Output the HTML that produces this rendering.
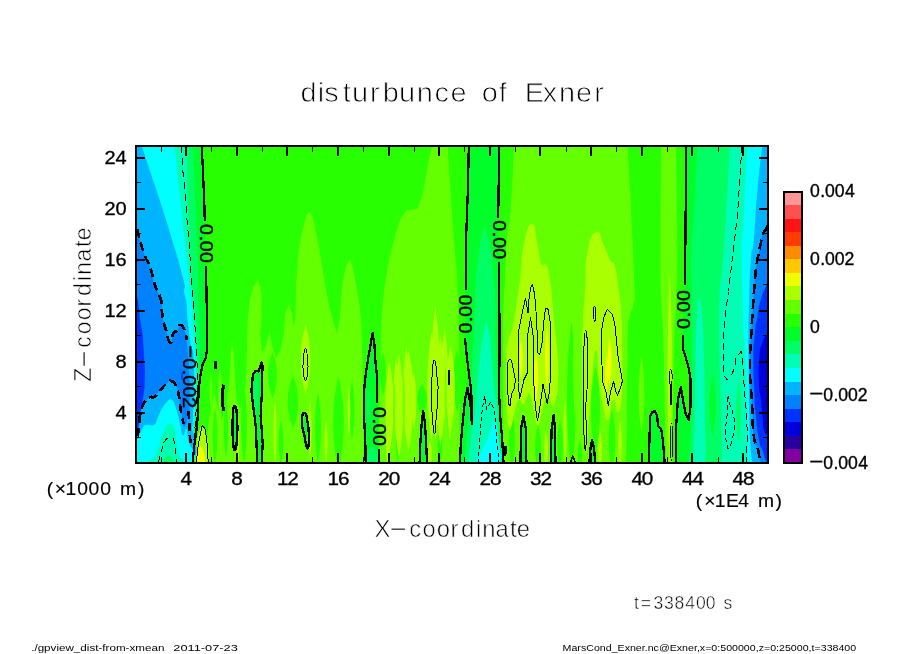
<!DOCTYPE html>
<html lang="en"><head><meta charset="utf-8"><title>disturbunce of Exner</title>
<style>
html,body{margin:0;padding:0;background:#fff;}
body{width:904px;height:654px;overflow:hidden;}
svg{display:block;}
text{font-family:"Liberation Sans",sans-serif;fill:#000;}
</style></head><body>
<svg width="904" height="654" viewBox="0 0 904 654">
<rect x="0" y="0" width="904" height="654" fill="#fff"/>
<defs><clipPath id="pc"><rect x="136" y="146" width="632" height="317"/></clipPath></defs>
<g clip-path="url(#pc)">
<rect x="135" y="145" width="634" height="319" fill="#28ff00"/>
<path d="M207,464 207,440 209,420 212,405 214,392 216.5,402 219,412 221.5,420 224.5,410 227,400 229.5,380 231,352 232.4,344.6 233.8,352 235,380 237,400 240,410 243,400 245.5,385 246.8,358 247.3,333 248,316 249.8,300 253.5,287 258,279 261.4,293 261.6,316 260.2,336 262,352 266,346 269.4,331.3 272,345 276,358 280.5,350 283.8,333 285.4,313 288.8,304.8 292,313 293.6,328 295.4,316 296.2,283 298.7,250 302,232 306,217 309.4,211.5 313,218 316,232 319.5,250 322.8,271.6 327.8,299.8 332.7,319.7 336.9,333 340,316 342.4,283 346,266 349.9,259 353,268 355.7,283 359.9,308 361.5,324.7 362.4,358 363,400 364,464Z" fill="#64ff00"/>
<path d="M378,464 379.5,400 380.6,358 381.8,316 383.9,291.5 387.2,270 391.4,250 395,236 400,220 406,210.5 417.5,208.8 422.5,195 428.8,160 432.5,144 447.5,144 448.8,165 451.2,202.5 453.8,240 457,275 458.6,316 459,358 459.5,400 459.5,464Z" fill="#64ff00"/>
<path d="M514,145C513.5,155.8 513.8,154.2 512.5,177.5C511.2,200.8 511.8,194.2 510,215C508.2,235.8 508.7,218.3 507,240C505.3,261.7 506.1,259 505,280C503.9,301 504.4,283 503.8,303C503.1,323 503.2,307.7 503,340C502.8,372.3 502.8,358.7 503,400C503.2,441.3 503.3,442.7 503.5,464 L626,464C626.3,446 626.5,445.3 627,410C627.5,374.7 627.3,383.7 627.6,358C627.9,332.3 627.1,346.9 627.8,333C628.5,319.1 627.9,326.1 629.8,316.4C631.7,306.7 631.9,312.8 633.5,304C635.1,295.2 634.8,311.3 634.5,290C634.2,268.7 634,273.3 632.5,240C631,206.7 631.7,221.7 630,190C628.3,158.3 628.3,160 627.5,145 Z" fill="#64ff00"/>
<path d="M661.2,145C661,180 660.5,198.3 660.5,250C660.5,301.7 660.5,273.3 661.3,300C662.1,326.7 662.2,310.7 663,330C663.8,349.3 663.1,328 663.8,358C664.5,388 664.3,384.7 665,420C665.7,455.3 665.7,449.3 666,464 L672.5,464C672.7,449.3 672.6,455.3 673,420C673.4,384.7 673.3,388 673.8,358C674.3,328 673.8,349.3 674.6,330C675.4,310.7 675.5,326.7 676.3,300C677.1,273.3 677.1,301.7 677.1,250C677.1,198.3 676.5,180 676.2,145 Z" fill="#64ff00"/>
<path d="M215,408 C218.2,424.8 218.2,447.2 215,464 C211.8,447.2 211.8,424.8 215,408 Z" fill="#28ff00"/>
<path d="M226,400 C228.9,417.4 228.9,440.6 226,458 C223.1,440.6 223.1,417.4 226,400 Z" fill="#28ff00"/>
<path d="M244,385 C247.9,408.7 247.9,440.3 244,464 C240.1,440.3 240.1,408.7 244,385 Z" fill="#28ff00"/>
<path d="M272.5,352 C278.4,365.8 278.4,384.2 272.5,398 C266.6,384.2 266.6,365.8 272.5,352 Z" fill="#28ff00"/>
<path d="M293,376 C300.1,391.6 300.1,412.4 293,428 C285.9,412.4 285.9,391.6 293,376 Z" fill="#28ff00"/>
<path d="M281,420 C284.2,433.2 284.2,450.8 281,464 C277.8,450.8 277.8,433.2 281,420 Z" fill="#28ff00"/>
<path d="M318,392 C321.9,413.6 321.9,442.4 318,464 C314.1,442.4 314.1,413.6 318,392 Z" fill="#28ff00"/>
<path d="M338.5,376 C345.6,404.2 345.6,441.8 338.5,470 C331.4,441.8 331.4,404.2 338.5,376 Z" fill="#28ff00"/>
<path d="M352,380 C355.2,398 355.2,422 352,440 C348.8,422 348.8,398 352,380 Z" fill="#28ff00"/>
<path d="M383,352 C386.9,365.2 386.9,382.8 383,396 C379.1,382.8 379.1,365.2 383,352 Z" fill="#28ff00"/>
<path d="M422,384 C428.5,393 428.5,405 422,414 C415.5,405 415.5,393 422,384 Z" fill="#28ff00"/>
<path d="M457,350 C462.2,368.6 462.2,393.4 457,412 C451.8,393.4 451.8,368.6 457,350 Z" fill="#28ff00"/>
<path d="M398,410 C400.9,426.2 400.9,447.8 398,464 C395.1,447.8 395.1,426.2 398,410 Z" fill="#28ff00"/>
<path d="M440,425 C443.2,436.7 443.2,452.3 440,464 C436.8,452.3 436.8,436.7 440,425 Z" fill="#28ff00"/>
<path d="M571.5,322 C577.5,367.6 577.5,428.4 571.5,474 C565.5,428.4 565.5,367.6 571.5,322 Z" fill="#28ff00"/>
<path d="M595.5,366 C601.5,392.4 601.5,427.6 595.5,454 C589.5,427.6 589.5,392.4 595.5,366 Z" fill="#28ff00"/>
<path d="M560,420 C563.9,435 563.9,455 560,470 C556.1,455 556.1,435 560,420 Z" fill="#28ff00"/>
<path d="M538,425 C541.9,438.5 541.9,456.5 538,470 C534.1,456.5 534.1,438.5 538,425 Z" fill="#28ff00"/>
<path d="M512,410 C515.9,428 515.9,452 512,470 C508.1,452 508.1,428 512,410 Z" fill="#28ff00"/>
<path d="M612,410 C616.5,428 616.5,452 612,470 C607.5,452 607.5,428 612,410 Z" fill="#28ff00"/>
<path d="M580,440 C583.2,449 583.2,461 580,470 C576.8,461 576.8,449 580,440 Z" fill="#28ff00"/>
<path d="M641.5,356 C645.4,378.8 645.4,409.2 641.5,432 C637.6,409.2 637.6,378.8 641.5,356 Z" fill="#64ff00"/>
<path d="M220,366 C222.3,382.2 222.3,403.8 220,420 C217.7,403.8 217.7,382.2 220,366 Z" fill="#64ff00"/>
<path d="M211,372 C212.9,383.4 212.9,398.6 211,410 C209.1,398.6 209.1,383.4 211,372 Z" fill="#64ff00"/>
<path d="M532,223.8C536.1,223.8 534.7,233 537.5,245C540.3,257 538.6,257.8 541.2,263.8C543.9,269.8 543.5,259.2 546.2,265C549,270.8 548.4,270.3 550.4,283.2C552.4,296.1 551.4,293.1 552.9,308C554.4,322.9 553.9,318 555.4,333C556.9,348 557.1,342.4 557.9,358C558.7,373.6 558.6,373 558,385C557.4,397 557.6,391.7 556,398C554.4,404.3 554.6,406.3 552.5,406C550.4,405.7 551.2,398.8 549,397C546.8,395.2 547.2,394.9 545,400C542.8,405.1 543.8,406.5 541.5,414C539.2,421.5 539.8,425.6 537.5,425C535.2,424.4 536.2,421.3 534,412C531.8,402.7 532.2,398.2 530,394C527.8,389.8 528.6,395 526.5,398C524.4,401 525.2,403.4 523,404C520.8,404.6 521.2,398.8 519,400C516.8,401.2 517.6,400.8 515.5,408C513.4,415.2 514,418 512,424C510.1,430 510.5,432.2 509,428C507.5,423.8 507.8,421.4 507,410C506.2,398.6 506.6,405.6 506.5,390C506.4,374.4 506,372.6 506.5,358C507,343.4 506.1,351.3 508.1,341.3C510.1,331.3 510.4,337.1 513.1,324.7C515.8,312.2 515,314.7 517.2,299.8C519.5,284.9 518.6,291.4 520.6,275C522.6,258.6 520.3,260.4 523.8,245C527.2,229.6 527.9,223.8 532,223.8Z" fill="#aaff00"/>
<path d="M596.2,232C601.1,229.8 599.6,236.6 603.8,245C607.9,253.4 606.7,253.5 610,260C613.3,266.5 612.2,257.2 614.9,266.6C617.6,276.1 617,276.6 619,291.5C621,306.4 620.5,296.4 621.5,316.4C622.5,336.3 622.2,335.3 622.4,358C622.5,380.7 623.3,375.8 622,392C620.7,408.2 620.7,409.6 618,412C615.3,414.4 616,397.6 613,400C610,402.4 611,418.5 608,420C605,421.5 605.7,417 603,405C600.3,393 601.1,396.5 599,380C596.9,363.5 598.1,350 596,350C593.9,350 594.1,359 592,380C589.9,401 590.8,398.4 589,420C587.2,441.6 587.6,452 586,452C584.4,452 584.7,448.2 583.5,420C582.3,391.8 582.2,386.6 582,358C581.8,329.4 581.9,345.1 582.8,324.7C583.7,304.3 583.6,311.7 585,290C586.4,268.3 584.1,269.9 587.5,252.5C590.9,235.1 591.4,234.2 596.2,232Z" fill="#aaff00"/>
<path d="M575,300 C577.6,336 577.6,384 575,420 C572.4,384 572.4,336 575,300 Z" fill="#64ff00"/>
<path d="M305.6,325 C312.1,345.7 312.1,373.3 305.6,394 C299.1,373.3 299.1,345.7 305.6,325 Z" fill="#aaff00"/>
<path d="M435.4,307 C441.4,346.9 441.4,400.1 435.4,440 C429.4,400.1 429.4,346.9 435.4,307 Z" fill="#aaff00"/>
<path d="M444.5,328 C449.2,355.6 449.2,392.4 444.5,420 C439.8,392.4 439.8,355.6 444.5,328 Z" fill="#aaff00"/>
<path d="M406.3,347 C411,374.9 411,412.1 406.3,440 C401.6,412.1 401.6,374.9 406.3,347 Z" fill="#aaff00"/>
<path d="M396,358 C399.4,379.6 399.4,408.4 396,430 C392.6,408.4 392.6,379.6 396,358 Z" fill="#aaff00"/>
<path d="M411,362 C414.4,380.9 414.4,406.1 411,425 C407.6,406.1 407.6,380.9 411,362 Z" fill="#aaff00"/>
<path d="M349,386 C350.8,401 350.8,421 349,436 C347.2,421 347.2,401 349,386 Z" fill="#aaff00"/>
<path d="M669.8,272 C672.7,331.4 672.7,410.6 669.8,470 C666.9,410.6 666.9,331.4 669.8,272 Z" fill="#aaff00"/>
<path d="M310,400 C312.3,418 312.3,442 310,460 C307.7,442 307.7,418 310,400 Z" fill="#aaff00"/>
<path d="M275,400 C277.1,419.2 277.1,444.8 275,464 C272.9,444.8 272.9,419.2 275,400 Z" fill="#aaff00"/>
<path d="M238,420 C240.1,433.2 240.1,450.8 238,464 C235.9,450.8 235.9,433.2 238,420 Z" fill="#aaff00"/>
<path d="M326,420 C328.1,433.2 328.1,450.8 326,464 C323.9,450.8 323.9,433.2 326,420 Z" fill="#aaff00"/>
<path d="M388,420 C390.6,434.4 390.6,453.6 388,468 C385.4,453.6 385.4,434.4 388,420 Z" fill="#aaff00"/>
<path d="M450,380 C452.6,398 452.6,422 450,440 C447.4,422 447.4,398 450,380 Z" fill="#aaff00"/>
<path d="M430,440 C432.6,449 432.6,461 430,470 C427.4,461 427.4,449 430,440 Z" fill="#aaff00"/>
<path d="M565,400 C567.1,419.2 567.1,444.8 565,464 C562.9,444.8 562.9,419.2 565,400 Z" fill="#aaff00"/>
<path d="M546,430 C548.6,442 548.6,458 546,470 C543.4,458 543.4,442 546,430 Z" fill="#aaff00"/>
<path d="M600,430 C602.6,442 602.6,458 600,470 C597.4,458 597.4,442 600,430 Z" fill="#aaff00"/>
<path d="M620,420 C622.3,435 622.3,455 620,470 C617.7,455 617.7,435 620,420 Z" fill="#aaff00"/>
<path d="M389.5,362 C395.2,389 395.2,425 389.5,452 C383.8,425 383.8,389 389.5,362 Z" fill="#aaff00"/>
<path d="M399,354 C405,385.2 405,426.8 399,458 C393,426.8 393,385.2 399,354 Z" fill="#aaff00"/>
<path d="M408.5,350 C414.7,380.6 414.7,421.4 408.5,452 C402.3,421.4 402.3,380.6 408.5,350 Z" fill="#aaff00"/>
<path d="M414,372 C417.1,389.4 417.1,412.6 414,430 C410.9,412.6 410.9,389.4 414,372 Z" fill="#aaff00"/>
<path d="M431.5,332 C437,365 437,409 431.5,442 C426,409 426,365 431.5,332 Z" fill="#aaff00"/>
<path d="M440.5,336 C446.5,369 446.5,413 440.5,446 C434.5,413 434.5,369 440.5,336 Z" fill="#aaff00"/>
<path d="M450.5,346 C456.5,371.8 456.5,406.2 450.5,432 C444.5,406.2 444.5,371.8 450.5,346 Z" fill="#aaff00"/>
<path d="M394.3,380 C395.6,398 395.6,422 394.3,440 C393,422 393,398 394.3,380 Z" fill="#64ff00"/>
<path d="M403.8,372 C405.1,391.2 405.1,416.8 403.8,436 C402.5,416.8 402.5,391.2 403.8,372 Z" fill="#64ff00"/>
<path d="M445.6,366 C446.8,382.2 446.8,403.8 445.6,420 C444.4,403.8 444.4,382.2 445.6,366 Z" fill="#64ff00"/>
<path d="M195.5,464 C194.8,444 198.8,428.8 202.2,424 C205.6,428.8 209.7,444 209,464 Z" fill="#aaff00"/>
<path d="M521,340 C523.3,351.4 523.3,366.6 521,378 C518.7,366.6 518.7,351.4 521,340 Z" fill="#f0ff00"/>
<path d="M536,352 C539.1,367.6 539.1,388.4 536,404 C532.9,388.4 532.9,367.6 536,352 Z" fill="#f0ff00"/>
<path d="M547,328 C549.6,346 549.6,370 547,388 C544.4,370 544.4,346 547,328 Z" fill="#f0ff00"/>
<path d="M609.6,338 C612.5,352.4 612.5,371.6 609.6,386 C606.7,371.6 606.7,352.4 609.6,338 Z" fill="#f0ff00"/>
<path d="M606.5,356 C608.6,367.4 608.6,382.6 606.5,394 C604.4,382.6 604.4,367.4 606.5,356 Z" fill="#f0ff00"/>
<path d="M196.5,464 C196.1,455 198.5,448.2 200.5,446 C202.8,448.2 205.4,455 205,464 Z" fill="#f0ff00"/>
<path d="M468.8,145C468.5,159.2 468.8,157.5 468,187.5C467.2,217.5 467,200.8 466.2,235C465.5,269.2 466.2,255.7 465.8,290C465.3,324.3 464.8,315.3 465,338C465.2,360.7 465.8,344 466.5,358C467.2,372 467.5,366.2 467,380C466.5,393.8 466.5,384.7 465,399.5C463.5,414.3 463.9,409.5 462.5,424.4C461.1,439.3 461.6,431.1 460.8,444.3C460,457.5 460.3,457.4 460,464 L503.5,464C503.1,456.3 503.4,457 502.3,441C501.2,425 501.3,432.6 500.2,416C499.1,399.4 499.2,410.5 499,391.2C498.8,371.9 499.4,400.9 499.5,358C499.6,315.1 499.8,310.2 499.2,262.5C498.8,214.8 498,254.2 498,215C498,175.8 498.8,168.3 499.2,145 Z" fill="#00ff28"/>
<path d="M484.5,226C483.7,229.3 483.7,228 482,236C480.3,244 481.5,235.3 479.5,250C477.5,264.7 477.6,262.3 476,280C474.4,297.7 475.4,286.3 474.8,303C474.2,319.7 475.1,311.7 474.3,330C473.5,348.3 473.9,334.7 472.5,358C471.1,381.3 472,372.7 470,400C468,427.3 468.2,418.7 466.5,440C464.8,461.3 465.5,456 465,464 L501,464C500.7,457.7 501,459.7 500,445C499,430.3 499,445 498,420C497,395 497.8,396.7 497,370C496.2,343.3 496.1,362.3 495.5,340C494.9,317.7 495.7,323 495.2,303C494.7,283 495.6,297.7 494,280C492.4,262.3 492.7,264.7 490.5,250C488.3,235.3 489.5,244 487.5,236C485.5,228 485.5,229.3 484.5,226 Z" fill="#00ff64"/>
<path d="M486.2,321.3C485.3,325.9 485.6,322.8 483.5,335C481.4,347.2 482.2,339.7 480,358C477.8,376.3 478.7,373.3 477,390C475.3,406.7 477,391.3 475,408C473,424.7 473.2,421.3 471,440C468.8,458.7 469.3,456 468.5,464 L500,464C499.6,456 499.7,458.7 498.8,440C497.9,421.3 498.7,424.7 497.3,408C495.9,391.3 496.4,406.7 494.5,390C492.6,373.3 493.2,376.3 491.5,358C489.8,339.7 491.3,347.2 489.5,335C487.7,322.8 487.3,325.9 486.2,321.3 Z" fill="#00ffb4"/>
<path d="M494,421C496.3,419 495.8,424.7 497,430C498.2,435.3 497.9,431.9 498.5,441C499.1,450.1 504.7,457.9 499.3,464C493.9,470.1 483,467.5 478.3,464C473.6,460.5 479,458 481.6,451C484.2,444 484.9,445.6 488.2,437.6C491.5,429.6 491.7,423 494,421Z" fill="#00ffff"/>
<path d="M365.7,464 365.3,441 364,416 364,391 365.7,374.6 368.2,358 370.5,345 372.6,333 L374.5,345 375.1,358 376.8,374.6 377.3,391 377.3,403 378,430 379,449 379,464Z" fill="#00ff28"/>
<path d="M367,464C364.6,460.8 367.2,456.5 368.5,452C369.8,447.5 370,447 372,447C374,447 374.5,447.5 376,452C377.5,456.5 379.9,460.8 377.5,464C375.1,467.2 369.4,467.2 367,464Z" fill="#00ff64"/>
<path d="M368.5,388 C370.2,400 370.2,416 368.5,428 C366.8,416 366.8,400 368.5,388 Z" fill="#00ff64"/>
<path d="M419.6,464 C419.2,437.4 421.4,417.2 423.2,410.8 C425.1,417.2 427.4,437.4 427,464 Z" fill="#00ff28"/>
<path d="M253,373.8 255.5,371 258.5,371.5 260.5,366 261.4,362.5 262.6,366 262.2,374.6 261.7,396 260.6,416 262.2,436 262.7,444 261.7,464 257.2,464 256.4,441 255.6,424.4 253,404.5 251.4,391Z" fill="#00ff28"/>
<path d="M256,376 C259.1,386.8 259.1,401.2 256,412 C252.9,401.2 252.9,386.8 256,376 Z" fill="#00ff64"/>
<path d="M234.8,407 C237.4,419.9 237.4,437.1 234.8,450 C232.2,437.1 232.2,419.9 234.8,407 Z" fill="#00ff28"/>
<path d="M305,414 C308.1,424.2 308.1,437.8 305,448 C301.9,437.8 301.9,424.2 305,414 Z" fill="#00ff28"/>
<path d="M520.6,464 C520.3,440 522,421.8 523.5,416 C525,421.8 526.7,440 526.4,464 Z" fill="#00ff28"/>
<path d="M551,464 C550.8,439.6 552.4,421.1 553.7,415.2 C554.7,421.1 555.8,439.6 555.6,464 Z" fill="#00ff28"/>
<path d="M589.4,464 C589.1,452 590.8,442.9 592.2,440 C593.7,442.9 595.5,452 595.2,464 Z" fill="#00ff28"/>
<path d="M648.9,464 L649.4,441 650.1,416 652,412.5 654.7,410.8 657.2,416 658,426 661.3,429.3 663,441 664.7,464Z" fill="#00ff28"/>
<path d="M769,145 L686.2,145 685,285 682.9,334.6 683.2,349.5 685.9,358 688.7,368 690.4,378 690.4,407.8 688.7,420.2 685.4,412.8 682.9,399.5 680.9,387 677.9,399.5 676.3,424.4 675.9,464 L769,464Z" fill="#00ff28"/>
<path d="M769,145 L697.5,145C696.2,168.3 695.8,180 693.8,215C691.7,250 692.1,221.7 691.4,250C690.6,278.3 691.5,264 691.5,300C691.5,336 691.3,324.7 691.5,358C691.7,391.3 692.2,376 692,400C691.8,424 692,408.7 691,430C690,451.3 689.7,452.7 689,464 L769,464Z" fill="#00ff64"/>
<path d="M699.5,298.7C700.8,298.7 700.8,299.2 702,315C703.2,330.8 703.3,332.7 704,358C704.7,383.3 704.7,381.7 704.8,410C704.9,438.3 707.2,449.6 704.5,464C701.8,478.4 697.1,478.4 694.5,464C691.9,449.6 694.6,438.3 694.9,410C695.2,381.7 695.1,383.3 695.7,358C696.3,332.7 696,330.8 697,315C698,299.2 698.2,298.7 699.5,298.7Z" fill="#00ffb4"/>
<path d="M769,145 L730,145C728.7,168.3 728.5,175 726,215C723.5,255 724.6,236.7 722.5,265C720.4,293.3 720.6,269 719.6,300C718.6,331 719.1,324.7 719.6,358C720.1,391.3 720.2,364.7 721,400C721.8,435.3 721.7,442.7 722,464 L769,464Z" fill="#00ffb4"/>
<path d="M712.6,374 C716.5,392.6 716.5,417.4 712.6,436 C708.7,417.4 708.7,392.6 712.6,374 Z" fill="#00ff28"/>
<path d="M738.5,380 C741.6,399.2 741.6,424.8 738.5,444 C735.4,424.8 735.4,399.2 738.5,380 Z" fill="#00ff64"/>
<path d="M769,145 L747.5,145C746.2,168.3 745.6,180 743.8,215C741.9,250 742.2,221.8 741.9,250C741.5,278.2 742.2,272 742.7,299.5C743.2,327 742.7,313.2 743.5,332.5C744.3,351.8 743.9,332.4 745,357.4C746.1,382.4 745.9,372 746.8,407.5C747.7,443 747.4,445.2 747.7,464 L769,464Z" fill="#00ffff"/>
<path d="M769,145 L762.5,145C760.8,160 760.4,158.3 757.5,190C754.6,221.7 755.9,217.3 753.8,240C751.6,262.7 752.5,238.2 751,258C749.5,277.8 750.1,274.7 749.3,299.5C748.5,324.3 748.8,313 748.5,332.5C748.2,352 748.2,333 748.5,358C748.8,383 748.8,380 749.3,407.5C749.8,435 749,421.7 750.1,440.5C751.2,459.3 751.8,456.2 752.6,464 L769,464Z" fill="#00b4ff"/>
<path d="M769,225 L769,225C768.5,225.3 769.7,222.7 767.5,226C765.3,229.3 765.4,226.2 762.5,235C759.6,243.8 760.9,242 758.8,252.5C756.6,263 757.6,256.3 756.2,266.5C754.8,276.7 755.5,272 754.6,283C753.7,294 754.2,288.5 753.4,299.5C752.6,310.5 753,305 752.3,316C751.6,327 752,320.4 751.3,332.5C750.6,344.6 750.5,337.2 750.1,352.3C749.7,367.4 749.7,363.8 750.1,377.8C750.5,391.8 750.6,383.3 751.3,394.3C752,405.3 751.8,399.8 752.3,410.8C752.8,421.8 752.2,417.4 752.9,427.3C753.6,437.2 752.5,432.8 754.3,440.5C756.1,448.2 756.5,442.6 758.4,450.4C760.3,458.2 759.5,459.5 760,464 L769,464Z" fill="#0082ff"/>
<path d="M769,282 L769,282C768.2,283.2 769.3,279.7 766.6,285.5C763.9,291.3 763.9,289.3 760.9,299.5C757.9,309.7 759.6,305 757.6,316C755.6,327 756.4,318.5 755,332.5C753.6,346.5 753.6,338.5 753.4,358C753.2,377.5 753.5,371.7 754.3,391C755.1,410.3 754.3,399.3 755.9,415.8C757.5,432.3 757,429 759.2,440.5C761.4,452 760.3,443.9 762.5,450.4C764.7,456.9 763.6,455.5 765.8,460C768,464.5 767.9,462.7 769,464 L769,464Z" fill="#0032ff"/>
<path d="M769,333 L769,333C768.2,333.7 768.8,331.9 766.6,335C764.4,338.1 765,334.7 762.5,342.4C760,350.1 760.4,344.5 759.2,358C758,371.5 758.3,369 758.9,382.8C759.5,396.6 759.7,388.3 760.9,399.3C762.1,410.3 761.4,405.4 762.5,415.8C763.6,426.2 762,423.9 764.2,430.6C766.4,437.3 767.4,434.2 769,436 L769,436Z" fill="#0000dc"/>
<path d="M135,145 L201.8,145C202.1,152 201.8,144 202.7,166C203.6,188 203.3,177.7 204.5,211C205.7,244.3 205.4,219.7 206.2,266C207,312.3 207.1,319.7 207,350C206.9,380.3 207.5,352 206,357C204.5,362 204.3,359 202.5,365C200.7,371 201.8,366.7 200.5,375C199.2,383.3 199.5,376.3 198.6,390C197.7,403.7 198.6,401.7 197.8,416C197,430.3 197.3,423.7 196.2,433C195.1,442.3 195.4,436.7 194.5,444C193.6,451.3 194,448.3 193.4,455C192.8,461.7 192.9,461 192.6,464 L135,464Z" fill="#00ff28"/>
<path d="M135,145 L193,145C194.5,182 195.5,204.3 197.4,256C199.3,307.7 197.8,270.7 198.6,300C199.4,329.3 199.6,324 199.8,344C200,364 200,344.7 199.2,360C198.4,375.3 198.4,371.3 197.4,390C196.4,408.7 197.2,401.7 196.3,416C195.4,430.3 195.8,423.7 194.8,433C193.8,442.3 194.1,433.7 193.2,444C192.3,454.3 192.5,457.3 192.2,464 L135,464Z" fill="#00ff64"/>
<path d="M135,145 L186.4,145C187.7,182 187.8,204.3 190.3,256C192.8,307.7 191.9,270.7 194,300C196.1,329.3 195.4,324 196.5,344C197.6,364 197.4,344.7 197.4,360C197.4,375.3 197.2,371.3 196.5,390C195.8,408.7 196.2,401.7 195.4,416C194.6,430.3 194.9,423.7 194,433C193.1,442.3 193.4,433.7 192.6,444C191.8,454.3 191.9,457.3 191.6,464 L135,464Z" fill="#00ffb4"/>
<path d="M135,145 L174.3,145C178.3,182 180.8,204.3 186.4,256C192,307.7 189.2,278 191.2,300C193.2,322 191.2,307.3 192.3,322C193.4,336.7 193.3,331.3 194.5,344C195.7,356.7 195.7,344.7 196,360C196.3,375.3 196,371.3 195.5,390C195,408.7 195.2,401.7 194.4,416C193.6,430.3 193.9,423.7 193,433C192.1,442.3 192.5,433.7 191.8,444C191.1,454.3 191.1,457.3 190.8,464 L135,464Z" fill="#00ffff"/>
<path d="M135,145 L141.5,145C153.3,182 162.7,206.3 177,256C191.3,305.7 181.4,279.3 184.5,294C187.6,308.7 185.1,290.7 186.2,300C187.3,309.3 186.4,307.3 187.9,322C189.4,336.7 188.8,332.3 190.6,344C192.4,355.7 192.3,341.7 193.4,357C194.5,372.3 194.1,370.3 194,390C193.9,409.7 193.8,401.7 193,416C192.2,430.3 192.5,423.7 191.6,433C190.7,442.3 191.1,433.7 190.4,444C189.7,454.3 189.9,457.3 189.6,464 L135,464Z" fill="#00b4ff"/>
<path d="M135,226C135.7,227 134,220 137,229C140,238 139.6,240.4 143.9,253C148.2,265.6 146.3,256 150,266.7C153.7,277.4 151.3,273.9 155,285C158.7,296.1 158.7,291.3 161,300C163.3,308.7 161.1,304 161.9,311C162.7,318 162,314.3 163.5,321C165,327.7 164.1,323.8 166.3,331C168.5,338.2 167.8,341.9 170.2,342.6C172.6,343.3 171.2,336.9 173.5,333C175.8,329.1 174.6,333.7 177,331C179.4,328.3 178,324.7 180.7,325C183.4,325.3 182.8,324.8 185,332C187.2,339.2 186.2,338 187.3,346.5C188.4,355 187.7,346.3 188.4,357.5C189.1,368.7 189,358.5 189.4,380C189.8,401.5 189.4,404.3 189.5,422C189.6,439.7 189.3,426.3 189.6,433C189.9,439.7 190.1,439 190.3,442 L135,442Z" fill="#0082ff"/>
<path d="M135,292 138,300 140.5,322 142.5,333 143.8,352 145,372 144.5,388 142.5,402 140,414 138,430 135,438Z" fill="#0032ff"/>
<path d="M135,437C135.7,429.7 136.4,439.6 137.5,436.5C138.6,433.4 138.5,431.3 139.2,425.4C139.9,419.5 139,420.4 140.3,414.4C141.6,408.4 141.7,407.5 144.2,403C146.7,398.5 147.1,399 149.7,397.4C152.3,395.8 151.3,398.8 154,397C156.7,395.2 156.1,394.5 159.7,390.8C163.3,387.1 164.2,385.5 167.4,383C170.6,380.5 169.6,380.8 171.8,381.4C174,382 173.9,381.9 175.7,385.3C177.5,388.7 177.4,388.7 178.5,394C179.6,399.3 179.1,399.1 180,405C180.9,410.9 180.9,410.4 181.8,416C182.7,421.6 182.4,423.9 183.5,426C184.6,428.1 184.4,425.6 186,424C187.6,422.4 188.5,409.3 189.6,420C190.7,430.7 204.6,452.3 190,464C175.4,475.7 149.7,471.2 135,464C120.3,456.8 134.3,444.3 135,437Z" fill="#00b4ff"/>
<path d="M135,441C135.7,434.3 135.4,442.2 137.5,438.7C139.6,435.2 140.6,431.4 143,427.7C145.4,424 143.5,425.7 146.4,425C149.3,424.3 151.1,426.7 154,425C156.9,423.3 155.3,423.1 157.4,418.8C159.5,414.5 159.3,413.3 161.9,408.8C164.5,404.3 164.4,404.4 167,402C169.6,399.6 169.3,398 171.8,399.8C174.3,401.6 174.1,402.9 176.2,408.8C178.3,414.7 177.8,414.9 179.6,422C181.4,429.1 181.1,433.7 182.9,435.4C184.7,437.1 184.9,427.6 186.2,428.5C187.5,429.4 187.1,429.2 187.9,438.7C188.7,448.2 203.4,457.3 189.3,464C175.2,470.7 149.5,470.1 135,464C120.5,457.9 134.3,447.7 135,441Z" fill="#00ffff"/>
<path d="M147,464C139.9,462.3 150.9,461.9 154,457.5C157.1,453.1 156.1,454.1 158.5,447.6C160.9,441.1 160,439.3 163,433C166,426.7 166.5,424.9 169.6,423.8C172.7,422.7 172.8,424.8 174.6,428.8C176.4,432.8 175.2,432.2 176.2,438.7C177.2,445.2 177.3,446.3 178.5,453C179.7,459.7 189.1,461.1 180.7,464C172.3,466.9 154.1,465.7 147,464Z" fill="#00ffb4"/>
<path d="M163,464C160.6,462.4 163.5,460.2 165,458C166.5,455.8 166.6,455.8 168.5,455.8C170.4,455.8 170.5,455.8 172,458C173.5,460.2 176.4,462.4 174,464C171.6,465.6 165.4,465.6 163,464Z" fill="#00ff64"/>
<path d="M182,372 C183.2,374.7 183.2,378.3 182,381 C180.8,378.3 180.8,374.7 182,372 Z" fill="#0032ff"/>
<g shape-rendering="crispEdges">
<path d="M201.8,146 202.7,166 204.2,200 204.8,221" fill="none" stroke="#000" stroke-width="2.3" stroke-linejoin="round"/>
<path d="M206,266 206.8,310 207,350 206,357 202.5,365 200.5,375 198.6,390 197.8,416 196.2,433 194.5,444 193.4,455 192.6,463" fill="none" stroke="#000" stroke-width="2.3" stroke-linejoin="round"/>
<path d="M468.8,146 468,187.5 466.2,235 465.9,290" fill="none" stroke="#000" stroke-width="2.3" stroke-linejoin="round"/>
<path d="M465,338 467,358 469.1,374.6 471.3,391.2 471.9,424.4 470.5,405 467.5,387.9 465,399.5 462.5,424.4 460.8,444.3 460,463" fill="none" stroke="#000" stroke-width="2.3" stroke-linejoin="round"/>
<path d="M499.2,146 498.6,190 498.2,218" fill="none" stroke="#000" stroke-width="2.3" stroke-linejoin="round"/>
<path d="M499.2,262.5 499.5,358 499,391.2 500.2,416 502.3,441 503.5,463" fill="none" stroke="#000" stroke-width="2.3" stroke-linejoin="round"/>
<path d="M505.6,446 505.2,456" fill="none" stroke="#000" stroke-width="2.5" stroke-linejoin="round"/>
<path d="M686.2,146 685.6,220 685,285" fill="none" stroke="#000" stroke-width="2.3" stroke-linejoin="round"/>
<path d="M682.9,334.6 683.2,349.5 685.9,358 688.7,368 690.4,378 690.4,407.8 688.7,420.2 685.4,412.8 682.9,399.5 680.9,387 677.9,399.5 676.3,424.4 675.9,463" fill="none" stroke="#000" stroke-width="2.3" stroke-linejoin="round"/>
<path d="M365.7,463 365.3,441 364,416 364,391 365.7,374.6 368.2,358 370.5,345 372.6,333 374.5,345 375.1,358 376.8,374.6 377.3,391 377.3,403" fill="none" stroke="#000" stroke-width="2.3" stroke-linejoin="round"/>
<path d="M379,449 379,463" fill="none" stroke="#000" stroke-width="2.3" stroke-linejoin="round"/>
<path d="M419.6,463 420.5,440 421.8,422 423.2,410.8 424.8,422 426,440 427,463" fill="none" stroke="#000" stroke-width="2.3" stroke-linejoin="round"/>
<path d="M253,373.8 255.5,371 258.5,371.5 260.5,366 261.4,362.5 262.6,366 262.2,374.6 261.7,396 260.6,416 262.2,436 262.7,444 261.7,463 257.2,463 256.4,441 255.6,424.4 253,404.5 251.4,391Z" fill="none" stroke="#000" stroke-width="2.3" stroke-linejoin="round"/>
<path d="M215.4,360.5 215.4,368.8" fill="none" stroke="#000" stroke-width="3" stroke-linejoin="round"/>
<path d="M223.2,384.5 222.6,398 223.2,411" fill="none" stroke="#000" stroke-width="3" stroke-linejoin="round"/>
<path d="M234.8,406C236.3,406 236.5,408.7 237.2,420C237.9,431.3 237.6,430 236.8,440C236,450 236.2,450 234.9,450C233.6,450 233.8,450 233,440C232.2,430 232,431.3 232.6,420C233.2,408.7 233.3,406 234.8,406Z" fill="none" stroke="#000" stroke-width="2.3"/>
<path d="M304.5,412.8C306.3,412.8 306.1,414.3 307.5,422C308.9,429.7 308.7,427.2 308.7,436C308.7,444.8 308.9,448.4 307.5,448.4C306.1,448.4 306.3,444.8 304.5,436C302.7,427.2 302,429.7 302,422C302,414.3 302.7,412.8 304.5,412.8Z" fill="none" stroke="#000" stroke-width="2.3"/>
<path d="M449.1,369.6 449.1,385.4" fill="none" stroke="#000" stroke-width="2" stroke-linejoin="round"/>
<path d="M520.6,463 520.8,430 523.5,416 526,430 526.4,463" fill="none" stroke="#000" stroke-width="2.3" stroke-linejoin="round"/>
<path d="M551,463 551.5,430 553.7,415.2 555.2,430 555.4,463" fill="none" stroke="#000" stroke-width="2.3" stroke-linejoin="round"/>
<path d="M589.4,463 590.5,448 592.2,440 594,448 595.2,463" fill="none" stroke="#000" stroke-width="2.3" stroke-linejoin="round"/>
<path d="M570.3,463 572.8,456 575.3,463" fill="none" stroke="#000" stroke-width="1.6" stroke-linejoin="round"/>
<path d="M648.9,463 649.4,441 650.1,416 652,412.5 654.7,410.8 657.2,416 658,426 661.3,429.3 663,441 664.7,463" fill="none" stroke="#000" stroke-width="2.3" stroke-linejoin="round"/>
<path d="M670.8,385 670.8,404.5" fill="none" stroke="#000" stroke-width="2" stroke-linejoin="round"/>
<path d="M196.2,463 198.4,444 200.6,433 202.2,425.4 205,428.8 206.7,438.7 207.8,455.3 208.3,463" fill="none" stroke="#000" stroke-width="1" stroke-linejoin="round"/>
<path d="M305.5,348C306.9,348 306.9,352 307.6,360C308.3,368 308.3,365.2 307.6,372C306.9,378.8 307,380.4 305.6,380.4C304.2,380.4 304.1,378.8 303.4,372C302.7,365.2 302.7,368 303.4,360C304.1,352 304.1,348 305.5,348Z" fill="none" stroke="#000" stroke-width="1"/>
<path d="M434.6,360.5C436.3,362.2 436.2,368.5 437.3,380C438.4,391.5 438.2,381.7 437.8,395C437.4,408.3 437.1,407.2 436,420C434.9,432.8 435.7,433.5 434.6,433.5C433.5,433.5 433.6,432.8 432.6,420C431.6,407.2 431.6,410 431.5,395C431.4,380 431.2,386.5 432.2,375C433.2,363.5 432.9,358.8 434.6,360.5Z" fill="none" stroke="#000" stroke-width="1"/>
<path d="M518,383 518.4,358 518.9,329.6 522.2,313 525.5,298.4 528,313 528.9,299.8 530.5,288.2 532.5,284.3 534.7,294.8 536,311.4 537.2,333 538,352.9 539.6,354.5 542.1,342.9 543.8,321.3 545.4,308.9 547.9,308.9 550.4,323 550.4,358 550.4,374.6 549.6,391.2 547.1,403.6 545.4,394.5 543,384.5 539.6,409.4 537.5,421 535.5,407.8 533.8,383 533,358 533,334.6 530.5,318 527.7,334.6 527.7,358 527.2,373 523.9,379.6 521.4,391.2 519.7,398.7Z" fill="none" stroke="#000" stroke-width="1" stroke-linejoin="round"/>
<path d="M509.5,359.7C511.7,358.7 512,363.6 513.8,372C515.6,380.4 515.6,377.3 514.8,385C514,392.7 513.1,388 511.5,395C509.9,402 511.2,406 510,406C508.8,406 508.9,405.3 508,395C507.1,384.7 506.8,386.8 507.3,375C507.8,363.2 507.3,360.7 509.5,359.7Z" fill="none" stroke="#000" stroke-width="1"/>
<path d="M594.6,306.4C595.4,306.4 595.7,308 595.8,313C595.9,318 595.6,321.3 594.8,321.3C594,321.3 593.6,318 593.5,313C593.4,308 593.8,306.4 594.6,306.4Z" fill="none" stroke="#000" stroke-width="1"/>
<path d="M585.6,330.5C587,330.5 587.3,338.2 587.8,358C588.3,377.8 587.7,373.4 587,390C586.3,406.6 586.1,394.5 585.8,407.8C585.5,421.1 586.4,415.9 586.2,430C586,444.1 586.2,451.9 585.3,450C584.4,448.1 584.3,444.4 583.6,424.4C582.9,404.4 583.1,412.1 583.1,390C583.1,367.9 582.8,377.8 583.6,358C584.4,338.2 584.2,330.5 585.6,330.5Z" fill="none" stroke="#000" stroke-width="1"/>
<path d="M601.6,358 602,328 604.1,316.4 607.4,309.4 612.4,314.7 614.9,324.7 616.5,341.3 618.2,358 620.7,371.3 622.4,381.2 619.9,389.5 617.4,395.3 615.7,391.2 613.7,381.2 610.7,391.2 608.3,405.3 605.8,391.2 603,383Z" fill="none" stroke="#000" stroke-width="1" stroke-linejoin="round"/>
<path d="M670.8,369.6C671.6,369.6 672.1,371.7 672.1,377C672.1,382.3 671.6,385.4 670.8,385.4C670,385.4 669.6,382.3 669.6,377C669.6,371.7 670,369.6 670.8,369.6Z" fill="none" stroke="#000" stroke-width="1"/>
<path d="M671.5,423.5C672.2,423.5 672.6,427.8 672.6,440C672.6,452.2 672.2,460 671.5,460C670.8,460 670.4,452.2 670.4,440C670.4,427.8 670.8,423.5 671.5,423.5Z" fill="none" stroke="#000" stroke-width="1"/>
<path d="M181.4,146 183.2,175.5 185.3,193 187,220 189.3,245 191.2,277 194,310 196,343 196.7,357.5 197.5,372 196.8,400 195.2,425 193.5,445" fill="none" stroke="#000" stroke-width="1" stroke-linejoin="round" stroke-dasharray="7 5"/>
<path d="M158.5,462 161.3,451 164,442 167.4,438" fill="none" stroke="#000" stroke-width="1" stroke-linejoin="round" stroke-dasharray="6 4"/>
<path d="M173.5,438 174.6,444 175.7,453 176.2,462" fill="none" stroke="#000" stroke-width="1" stroke-linejoin="round" stroke-dasharray="6 4"/>
<path d="M478,463 479.6,441 480.7,424.4 482.4,407.8 484.6,396.5 486.6,409.4 490.7,402 493.2,407.8 495.2,416 496.8,441 498.2,452.6 498.5,463" fill="none" stroke="#000" stroke-width="1" stroke-linejoin="round" stroke-dasharray="4 3"/>
<path d="M742,146 740,175 737.5,215 733.5,248 731,270 728.5,291.5 726.1,308 724.2,324.7 723.2,340.8 723.5,358 723.7,374.5 727,380 732,374 734.5,368 736,358 737.8,355.6 741,351.5 742.7,358 743.5,374.5 744.4,391 746,407.5 747.3,432.3 746.5,462" fill="none" stroke="#000" stroke-width="1" stroke-linejoin="round" stroke-dasharray="7 4"/>
<path d="M727.9,397.6C726.8,400.9 727.8,404.2 727,415.8C726.2,427.4 725.4,423 725.4,432.3C725.4,441.6 725.9,438.6 727,443.8C728.1,449 726.8,450.2 728.7,448C730.6,445.8 731,445.2 732.8,437.2C734.6,429.2 734,431.7 734.1,424C734.2,416.3 734.4,420 733.1,414C731.8,408 732,411.4 730.3,405.9C728.6,400.4 729,394.3 727.9,397.6Z" fill="none" stroke="#000" stroke-width="1" stroke-dasharray="5 3"/>
<path d="M137,229C139.3,237 139.6,240.4 143.9,253C148.2,265.6 146.3,256 150,266.7C153.7,277.4 151.3,273.9 155,285C158.7,296.1 158.7,291.3 161,300C163.3,308.7 161.1,304 161.9,311C162.7,318 162,314.3 163.5,321C165,327.7 164.1,323.8 166.3,331C168.5,338.2 167.8,341.9 170.2,342.6C172.6,343.3 171.2,336.9 173.5,333C175.8,329.1 174.6,333.7 177,331C179.4,328.3 178,324.7 180.7,325C183.4,325.3 183,327 185,332C187,337 186.1,337.3 186.6,340" fill="none" stroke="#000" stroke-width="2.7" stroke-dasharray="9 5"/>
<path d="M137.5,436.5C138.1,432.8 138.3,432.8 139.2,425.4C140.1,418 138.6,421.9 140.3,414.4C142,406.9 141.1,408.7 144.2,403C147.3,397.3 146.4,399.4 149.7,397.4C153,395.4 150.7,399.2 154,397C157.3,394.8 155.2,395.5 159.7,390.8C164.2,386.1 163.4,386.1 167.4,383C171.4,379.9 169,380.6 171.8,381.4C174.6,382.2 173.5,381.1 175.7,385.3C177.9,389.5 177.1,387.4 178.5,394C179.9,400.6 178.9,397.7 180,405C181.1,412.3 180.6,409.7 181.8,416C183,422.3 182.9,421.3 183.5,424" fill="none" stroke="#000" stroke-width="2.7" stroke-dasharray="9 5"/>
<path d="M188.4,411 189.5,422 189.6,433 190.6,443" fill="none" stroke="#000" stroke-width="2.7" stroke-linejoin="round" stroke-dasharray="8 4"/>
<path d="M767.5,226 762.5,235 758.8,252.5 756.2,266.5 754.6,283 753.4,299.5 752.3,316 751.3,332.5 750.1,352.3 750.1,377.8 751.3,394.3 752.3,410.8 752.9,427.3 754.3,440.5 758.4,450.4 760,462" fill="none" stroke="#000" stroke-width="2.7" stroke-linejoin="round" stroke-dasharray="10 5"/>
</g>
<text transform="translate(200,224.6) rotate(90) scale(1.050,1)" font-size="18.6" x="-0.7 10.3 15.4 26" stroke="#000" stroke-width="0.45" xml:space="preserve">0.00</text>
<text transform="translate(493,221) rotate(90) scale(1.050,1)" font-size="18.6" x="-0.7 10.3 15.4 26" stroke="#000" stroke-width="0.45" xml:space="preserve">0.00</text>
<text transform="translate(372.6,407.6) rotate(90) scale(1.050,1)" font-size="18.6" x="-0.7 10.3 15.4 26" stroke="#000" stroke-width="0.45" xml:space="preserve">0.00</text>
<text transform="translate(183,346.7) rotate(90) scale(1.050,1)" font-size="18.6" x="-1.8 11 22 27.1 37.8 48.2" y="-1.6 0 0 0 0 0" stroke="#000" stroke-width="0.45" xml:space="preserve"><tspan textLength="13.3" lengthAdjust="spacingAndGlyphs">-</tspan>0.002</text>
<text transform="translate(471.8,332.8) rotate(-90) scale(1.050,1)" font-size="18.6" x="-0.7 10.3 15.4 26" stroke="#000" stroke-width="0.45" xml:space="preserve">0.00</text>
<text transform="translate(689.6,328.2) rotate(-90) scale(1.050,1)" font-size="18.6" x="-0.7 10.3 15.4 26" stroke="#000" stroke-width="0.45" xml:space="preserve">0.00</text>
</g>
<path d="M186,146v10M186,463v-10M237,146v10M237,463v-10M287,146v10M287,463v-10M338,146v10M338,463v-10M389,146v10M389,463v-10M439,146v10M439,463v-10M490,146v10M490,463v-10M540,146v10M540,463v-10M591,146v10M591,463v-10M642,146v10M642,463v-10M692,146v10M692,463v-10M743,146v10M743,463v-10M136,413h9M768,413h-9M136,362h9M768,362h-9M136,311h9M768,311h-9M136,260h9M768,260h-9M136,209h9M768,209h-9M136,158h9M768,158h-9" stroke="#000" stroke-width="2" fill="none"/>
<path d="M161.5,146v6M161.5,463v-6M211.5,146v6M211.5,463v-6M262.5,146v6M262.5,463v-6M312.5,146v6M312.5,463v-6M363.5,146v6M363.5,463v-6M414.5,146v6M414.5,463v-6M464.5,146v6M464.5,463v-6M515.5,146v6M515.5,463v-6M566.5,146v6M566.5,463v-6M616.5,146v6M616.5,463v-6M667.5,146v6M667.5,463v-6M718.5,146v6M718.5,463v-6M136,437.5h5M768,437.5h-5M136,386.5h5M768,386.5h-5M136,335.5h5M768,335.5h-5M136,284.5h5M768,284.5h-5M136,233.5h5M768,233.5h-5M136,182.5h5M768,182.5h-5" stroke="#000" stroke-width="1" fill="none"/>
<rect x="136" y="146" width="632" height="317" fill="none" stroke="#000" stroke-width="2"/>
<rect x="784" y="191" width="18" height="14" fill="#ff9696"/>
<rect x="784" y="205" width="18" height="14" fill="#ff5050"/>
<rect x="784" y="219" width="18" height="13" fill="#ff1414"/>
<rect x="784" y="232" width="18" height="14" fill="#ff3c00"/>
<rect x="784" y="246" width="18" height="13" fill="#ff8c00"/>
<rect x="784" y="259" width="18" height="14" fill="#ffc800"/>
<rect x="784" y="273" width="18" height="13" fill="#f0ff00"/>
<rect x="784" y="286" width="18" height="14" fill="#aaff00"/>
<rect x="784" y="300" width="18" height="14" fill="#64ff00"/>
<rect x="784" y="314" width="18" height="13" fill="#28ff00"/>
<rect x="784" y="327" width="18" height="14" fill="#00ff28"/>
<rect x="784" y="341" width="18" height="13" fill="#00ff64"/>
<rect x="784" y="354" width="18" height="14" fill="#00ffb4"/>
<rect x="784" y="368" width="18" height="14" fill="#00ffff"/>
<rect x="784" y="382" width="18" height="13" fill="#00b4ff"/>
<rect x="784" y="395" width="18" height="14" fill="#0082ff"/>
<rect x="784" y="409" width="18" height="13" fill="#0032ff"/>
<rect x="784" y="422" width="18" height="14" fill="#0000dc"/>
<rect x="784" y="436" width="18" height="13" fill="#2800a0"/>
<rect x="784" y="449" width="18" height="14" fill="#8200a0"/>
<rect x="784" y="192" width="18" height="271" fill="none" stroke="#000" stroke-width="2"/>
<text transform="translate(180.5,484.5) scale(1.140,1)" font-size="18.2" textLength="10" lengthAdjust="spacing" stroke="#000" stroke-width="0.3" xml:space="preserve">4</text>
<text transform="translate(231.2,484.5) scale(1.140,1)" font-size="18.2" textLength="10" lengthAdjust="spacing" stroke="#000" stroke-width="0.3" xml:space="preserve">8</text>
<text transform="translate(276.9,484.5) scale(1.140,1)" font-size="18.2" textLength="19.3" lengthAdjust="spacing" stroke="#000" stroke-width="0.3" xml:space="preserve">12</text>
<text transform="translate(327.5,484.5) scale(1.140,1)" font-size="18.2" textLength="19.3" lengthAdjust="spacing" stroke="#000" stroke-width="0.3" xml:space="preserve">16</text>
<text transform="translate(378.2,484.5) scale(1.140,1)" font-size="18.2" textLength="19.3" lengthAdjust="spacing" stroke="#000" stroke-width="0.3" xml:space="preserve">20</text>
<text transform="translate(428.8,484.5) scale(1.140,1)" font-size="18.2" textLength="19.3" lengthAdjust="spacing" stroke="#000" stroke-width="0.3" xml:space="preserve">24</text>
<text transform="translate(479.5,484.5) scale(1.140,1)" font-size="18.2" textLength="19.3" lengthAdjust="spacing" stroke="#000" stroke-width="0.3" xml:space="preserve">28</text>
<text transform="translate(530.1,484.5) scale(1.140,1)" font-size="18.2" textLength="19.3" lengthAdjust="spacing" stroke="#000" stroke-width="0.3" xml:space="preserve">32</text>
<text transform="translate(580.7,484.5) scale(1.140,1)" font-size="18.2" textLength="19.3" lengthAdjust="spacing" stroke="#000" stroke-width="0.3" xml:space="preserve">36</text>
<text transform="translate(631.4,484.5) scale(1.140,1)" font-size="18.2" textLength="19.3" lengthAdjust="spacing" stroke="#000" stroke-width="0.3" xml:space="preserve">40</text>
<text transform="translate(682,484.5) scale(1.140,1)" font-size="18.2" textLength="19.3" lengthAdjust="spacing" stroke="#000" stroke-width="0.3" xml:space="preserve">44</text>
<text transform="translate(732.6,484.5) scale(1.140,1)" font-size="18.2" textLength="19.3" lengthAdjust="spacing" stroke="#000" stroke-width="0.3" xml:space="preserve">48</text>
<text transform="translate(115.6,418.5) scale(1.100,1)" font-size="18.2" textLength="10" lengthAdjust="spacing" stroke="#000" stroke-width="0.3" xml:space="preserve">4</text>
<text transform="translate(115.6,367.5) scale(1.100,1)" font-size="18.2" textLength="10" lengthAdjust="spacing" stroke="#000" stroke-width="0.3" xml:space="preserve">8</text>
<text transform="translate(104.6,316.5) scale(1.100,1)" font-size="18.2" textLength="20" lengthAdjust="spacing" stroke="#000" stroke-width="0.3" xml:space="preserve">12</text>
<text transform="translate(104.6,265.5) scale(1.100,1)" font-size="18.2" textLength="20" lengthAdjust="spacing" stroke="#000" stroke-width="0.3" xml:space="preserve">16</text>
<text transform="translate(104.6,214.5) scale(1.100,1)" font-size="18.2" textLength="20" lengthAdjust="spacing" stroke="#000" stroke-width="0.3" xml:space="preserve">20</text>
<text transform="translate(104.6,163.5) scale(1.100,1)" font-size="18.2" textLength="20" lengthAdjust="spacing" stroke="#000" stroke-width="0.3" xml:space="preserve">24</text>
<text transform="translate(0,101.5) scale(1.040,1)" font-size="27.8" x="289 305.6 311.8 329.6 338.5 355.8 368 383.7 400.8 417.7 433.2 451.9 463.2 479.7 494.2 504.6 522 537.5 553.9 571.4" stroke="#fff" stroke-width="0.8" xml:space="preserve">disturbunce of Exner</text>
<text transform="translate(0,536.6) scale(1.000,1)" font-size="23.8" x="374.5 388 409.2 422.6 436.7 450.5 460.9 476 482.3 495.4 509.9 516.7" y="0 -1.2 0 0 0 0 0 0 0 0 0 0" stroke="#fff" stroke-width="0.6" xml:space="preserve">X<tspan textLength="20.4" lengthAdjust="spacingAndGlyphs">-</tspan>coordinate</text>
<text transform="translate(91.2,381.2) rotate(-90) scale(0.930,1)" font-size="24.6" x="-0.6 12.9 36 50.4 65.6 80.3 91.6 107.7 114.6 128.7 144.2 151.6" y="0 -1.2 0 0 0 0 0 0 0 0 0 0" stroke="#fff" stroke-width="0.6" xml:space="preserve">Z<tspan textLength="21.9" lengthAdjust="spacingAndGlyphs">-</tspan>coordinate</text>
<text transform="translate(0,495.3) scale(1.060,1)" font-size="18.2" x="44 51.6 61.7 72.8 83.5 94.5 107.5 113.2 130.2" stroke="#000" stroke-width="0.15" xml:space="preserve">(×1000 m)</text>
<text transform="translate(0,506.8) scale(1.060,1)" font-size="18.2" x="656.3 664.3 674.4 685 696.4 709.4 715 731.7" stroke="#000" stroke-width="0.15" xml:space="preserve">(×1E4 m)</text>
<text transform="translate(0,608.8) scale(1.000,1)" font-size="17.6" x="634.1 640.8 653.5 664 674.4 685.2 696.1 705.7 718 723.4" stroke="#fff" stroke-width="0.45" xml:space="preserve">t=338400 s</text>
<text transform="translate(0,197) scale(1.000,1)" font-size="17.6" x="810.1 820.2 825 834.8 845" stroke="#000" stroke-width="0.35" xml:space="preserve">0.004</text>
<text transform="translate(0,264.9) scale(1.000,1)" font-size="17.6" x="810.1 820.2 825 834.8 844.5" stroke="#000" stroke-width="0.35" xml:space="preserve">0.002</text>
<text transform="translate(0,332.8) scale(1.000,1)" font-size="17.6" x="810.1" stroke="#000" stroke-width="0.35" xml:space="preserve">0</text>
<text transform="translate(0,400.7) scale(1.000,1)" font-size="17.6" x="808.8 823.3 833.4 838.2 848 857.7" y="-1.3 0 0 0 0 0" stroke="#000" stroke-width="0.35" xml:space="preserve"><tspan textLength="15.2" lengthAdjust="spacingAndGlyphs">-</tspan>0.002</text>
<text transform="translate(0,468.6) scale(1.000,1)" font-size="17.6" x="808.8 823.3 833.4 838.2 848 858.2" y="-1.3 0 0 0 0 0" stroke="#000" stroke-width="0.35" xml:space="preserve"><tspan textLength="15.2" lengthAdjust="spacingAndGlyphs">-</tspan>0.004</text>
<text font-size="9.4" transform="translate(0,650.9)" xml:space="preserve"><tspan x="31.2" textLength="133.2" lengthAdjust="spacingAndGlyphs">./gpview_dist-from-xmean</tspan><tspan x="166.2" textLength="71.6" lengthAdjust="spacingAndGlyphs">  2011-07-23</tspan></text>
<text font-size="9.4" transform="translate(0,650.9)" x="562.6" textLength="293.6" lengthAdjust="spacingAndGlyphs">MarsCond_Exner.nc@Exner,x=0:500000,z=0:25000,t=338400</text>
</svg></body></html>
